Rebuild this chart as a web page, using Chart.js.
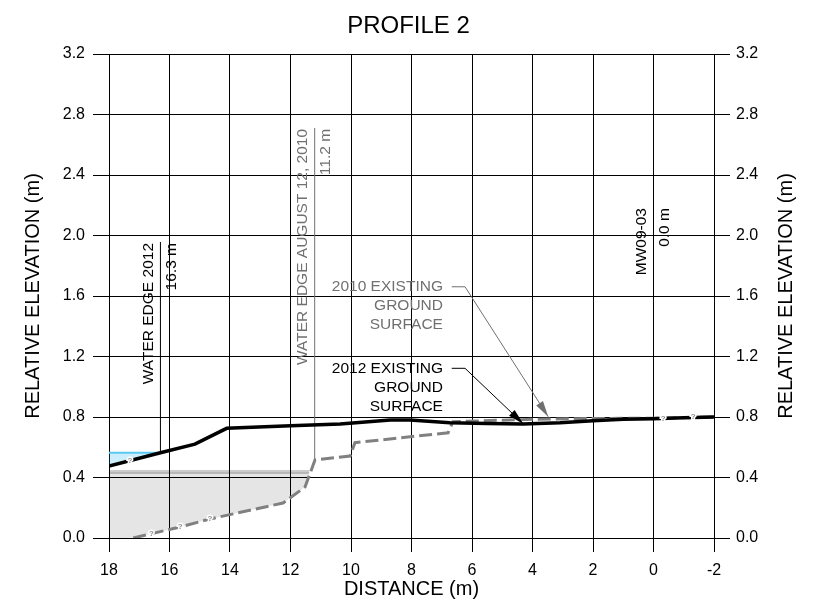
<!DOCTYPE html>
<html>
<head>
<meta charset="utf-8">
<title>Profile 2</title>
<script src="https://cdn.jsdelivr.net/npm/chart.js@4.4.1/dist/chart.umd.min.js"></script>
<style>
    html, body { margin: 0; padding: 0; background: #fff; }
    #wrap { width: 817px; height: 614px; }
</style>
</head>
<body>
<div id="wrap"><canvas id="profileChart" width="817" height="614"></canvas></div>
<script>
// axis ticks
const distTicks = [18, 16, 14, 12, 10, 8, 6, 4, 2, 0, -2];
const elevTicks = [0, 0.4, 0.8, 1.2, 1.6, 2.0, 2.4, 2.8, 3.2];

// 2012 existing ground surface
const ground2012Dist = [18, 16.3, 15.16, 14.11, 12, 10.36, 8.7, 8.05, 6.73, 5.5, 4.31, 3.09, 2, 1, 0, -1, -2];
const ground2012Elev = [0.476, 0.564, 0.621, 0.725, 0.742, 0.754, 0.78, 0.78, 0.762, 0.757, 0.754, 0.762, 0.775, 0.785, 0.789, 0.795, 0.80];

// 2010 existing ground surface
const ground2010Dist = [17.2, 15.65, 14.66, 12.25, 11.52, 11.19, 10.03, 9.87, 6.79, 6.63, 4.0, 2.0, 0, -2];
const ground2010Elev = [0, 0.073, 0.126, 0.231, 0.337, 0.516, 0.542, 0.630, 0.696, 0.769, 0.785, 0.79, 0.792, 0.80];

// 2012 water, between the surface and the bed
const waterDist = [18, 16.3];
const waterSurfaceElev = [0.564, 0.564];
const waterBedElev = [0.476, 0.564];

// grey block under the 2010 water
const blockTopDist = [18, 11.38];
const blockTopElev = [0.436, 0.436];
const blockBottomDist = [18, 17.2, 15.65, 14.66, 12.25, 11.52, 11.38];
const blockBottomElev = [0, 0, 0.073, 0.126, 0.231, 0.337, 0.436];

// vertical markers
const markerNames = ['WATER EDGE 2012', 'WATER EDGE AUGUST 12, 2010', 'MW09-03'];
const markerDistLabels = ['16.3 m', '11.2 m', '0.0 m'];
const markerDist = [16.3, 11.2, 0];
const markerBaseElev = [0.564, 0.516, 0.789];
const markerTopElev = [1.957, 2.711, 2.188];

// callouts with leaders
const calloutText = [['2010 EXISTING', 'GROUND', 'SURFACE'], ['2012 EXISTING', 'GROUND', 'SURFACE']];
const calloutTextDist = [6.96, 6.96];
const calloutElev = [1.661, 1.122];
const leaderStartDist = [6.67, 6.67];
const leaderElbowDist = [6.23, 6.23];
const leaderTipDist = [3.48, 4.30];
const leaderTipElev = [0.802, 0.754];

// "?" marks along uncertain stretches
const queryDist = [17.31, 16.6, 15.65, 14.66, -0.32, -1.31];
const queryElev = [0.512, 0.028, 0.073, 0.125, 0.79, 0.80];

const FONT = "'Liberation Sans', Arial, sans-serif";
const markerColors = ['#000', '#707070', '#000'];
const calloutColors = ['#707070', '#000'];
const elevTitle = 'RELATIVE ELEVATION (m)';

const pts = (xs, ys) => xs.map((x, i) => ({x: x, y: ys[i]}));

const datasets = [];
datasets.push({
    label: '2012 ground',
    data: pts(ground2012Dist, ground2012Elev),
    borderColor: '#000', borderWidth: 3.5, pointRadius: 0, fill: false
});
datasets.push({
    label: '2010 ground',
    data: pts(ground2010Dist, ground2010Elev),
    borderColor: '#808080', borderWidth: 3, borderDash: [13, 5], pointRadius: 0, fill: false
});
markerDist.forEach((d, i) => {
    datasets.push({
        label: markerNames[i],
        data: pts([d, d], [markerBaseElev[i], markerTopElev[i]]),
        borderColor: markerColors[i], borderWidth: 1, pointRadius: 0, fill: false
    });
});
const leaderIndex = [];
calloutElev.forEach((e, i) => {
    leaderIndex.push(datasets.length);
    datasets.push({
        label: 'leader ' + i,
        data: pts([leaderStartDist[i], leaderElbowDist[i], leaderTipDist[i]], [e, e, leaderTipElev[i]]),
        borderColor: calloutColors[i], borderWidth: 1, pointRadius: 0, fill: false
    });
});
datasets.push({
    label: 'water surface',
    data: pts(waterDist, waterSurfaceElev),
    borderColor: '#5ac8f0', borderWidth: 2, pointRadius: 0,
    fill: '+1', backgroundColor: 'rgba(0,170,240,0.2)'
});
datasets.push({
    label: 'water bed',
    data: pts(waterDist, waterBedElev),
    borderColor: 'transparent', borderWidth: 0, pointRadius: 0, fill: false
});
datasets.push({
    label: 'block top',
    data: pts(blockTopDist, blockTopElev),
    borderColor: 'rgba(0,0,0,0.2)', borderWidth: 4, pointRadius: 0,
    fill: '+1', backgroundColor: 'rgba(0,0,0,0.1)'
});
datasets.push({
    label: 'block bottom',
    data: pts(blockBottomDist, blockBottomElev),
    borderColor: 'transparent', borderWidth: 0, pointRadius: 0, fill: false
});

const annotations = {
    id: 'profileAnnotations',
    afterDatasetsDraw(chart) {
        const ctx = chart.ctx;
        const x = chart.scales.x;
        const y = chart.scales.y;

        ctx.save();
        ctx.font = '15.5px ' + FONT;
        ctx.textBaseline = 'middle';
        markerDist.forEach((d, i) => {
            const px = x.getPixelForValue(d);
            const top = y.getPixelForValue(markerTopElev[i]) + 1;
            ctx.fillStyle = markerColors[i];
            [[markerNames[i], -12], [markerDistLabels[i], 11]].forEach(([text, off]) => {
                ctx.save();
                ctx.translate(px + off, top);
                ctx.rotate(-Math.PI / 2);
                ctx.textAlign = 'right';
                ctx.fillText(text, 0, 0);
                ctx.restore();
            });
        });

        ctx.textAlign = 'right';
        calloutText.forEach((lines, i) => {
            ctx.fillStyle = calloutColors[i];
            const px = x.getPixelForValue(calloutTextDist[i]);
            const py = y.getPixelForValue(calloutElev[i]);
            lines.forEach((line, k) => ctx.fillText(line, px, py + k * 19));
        });

        // arrow heads at the leader tips
        leaderIndex.forEach((di, i) => {
            const p = chart.getDatasetMeta(di).data;
            const a = p[p.length - 2], b = p[p.length - 1];
            const ang = Math.atan2(b.y - a.y, b.x - a.x);
            ctx.save();
            ctx.translate(b.x, b.y);
            ctx.rotate(ang);
            ctx.beginPath();
            ctx.moveTo(0, 0);
            ctx.lineTo(-16, -4);
            ctx.lineTo(-16, 4);
            ctx.closePath();
            ctx.fillStyle = calloutColors[i];
            ctx.fill();
            ctx.restore();
        });

        ctx.font = 'bold 8px ' + FONT;
        ctx.textAlign = 'center';
        queryDist.forEach((d, i) => {
            const px = x.getPixelForValue(d);
            const py = y.getPixelForValue(queryElev[i]);
            ctx.lineWidth = 3;
            ctx.strokeStyle = '#fff';
            ctx.strokeText('?', px, py);
            ctx.fillStyle = '#8c8c8c';
            ctx.fillText('?', px, py);
        });
        ctx.restore();
    },
    afterDraw(chart) {
        // right axis title reads bottom-to-top like the left one
        const ctx = chart.ctx;
        const area = chart.chartArea;
        ctx.save();
        ctx.font = '20px ' + FONT;
        ctx.fillStyle = '#000';
        ctx.textAlign = 'center';
        ctx.textBaseline = 'middle';
        ctx.translate(chart.width - 31, (area.top + area.bottom) / 2);
        ctx.rotate(-Math.PI / 2);
        ctx.fillText(elevTitle, 0, 0);
        ctx.restore();
    }
};

const tickFont = {family: FONT, size: 16};
const titleFont = {family: FONT, size: 20};

new Chart(document.getElementById('profileChart'), {
    type: 'line',
    data: {datasets: datasets},
    options: {
        responsive: false,
        animation: false,
        events: [],
        layout: {padding: 0},
        plugins: {
            legend: {display: false},
            tooltip: {enabled: false},
            title: {
                display: true,
                text: 'PROFILE 2',
                color: '#000',
                font: {family: FONT, size: 24, weight: 'normal'},
                padding: {top: 11.6, bottom: 13.6}
            }
        },
        scales: {
            x: {
                type: 'linear',
                reverse: true,
                min: -2,
                max: 18,
                afterFit: (s) => { s.height = 76; },
                afterBuildTicks: (s) => { s.ticks = distTicks.map(v => ({value: v})); },
                grid: {color: '#000', lineWidth: 1, tickLength: 14},
                border: {color: '#000'},
                ticks: {color: '#000', font: tickFont, padding: 9, maxRotation: 0},
                title: {display: true, text: 'DISTANCE (m)', color: '#000', font: titleFont, padding: {top: 0, bottom: 13}}
            },
            y: {
                position: 'left',
                min: 0,
                max: 3.2,
                afterFit: (s) => { s.width = 109; },
                afterBuildTicks: (s) => { s.ticks = elevTicks.map(v => ({value: v})); },
                grid: {color: '#000', lineWidth: 1, tickLength: 16},
                border: {color: '#000'},
                ticks: {color: '#000', font: tickFont, padding: 8, callback: v => v.toFixed(1)},
                title: {display: true, text: elevTitle, color: '#000', font: titleFont, padding: {top: 21.5, bottom: 0}}
            },
            y2: {
                position: 'right',
                min: 0,
                max: 3.2,
                afterFit: (s) => { s.width = 103; },
                afterBuildTicks: (s) => { s.ticks = elevTicks.map(v => ({value: v})); },
                grid: {color: '#000', lineWidth: 1, tickLength: 16, drawOnChartArea: false},
                border: {color: '#000'},
                ticks: {color: '#000', font: tickFont, padding: 6, callback: v => v.toFixed(1)},
                title: {display: false}
            }
        }
    },
    plugins: [annotations]
});
</script>
</body>
</html>
